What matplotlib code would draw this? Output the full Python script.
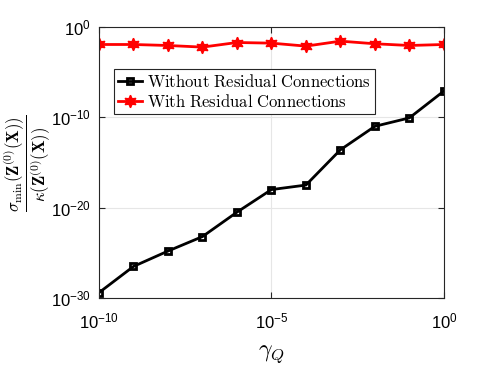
import numpy as np
import matplotlib.pyplot as plt

plt.rcParams['font.family'] = ['Liberation Sans', 'DejaVu Sans']
plt.rcParams['mathtext.fontset'] = 'cm'

# data (log10 values)
gamma_q = 10.0 ** np.arange(-10, 1)
log_without = [-29.4, -26.5, -24.8, -23.2, -20.5, -18.0, -17.5, -13.6, -11.0, -10.07, -7.1]
log_with = [-1.95, -1.95, -2.06, -2.24, -1.73, -1.80, -2.13, -1.58, -1.87, -2.06, -1.95]
without_res = 10.0 ** np.array(log_without)
with_res = 10.0 ** np.array(log_with)

fig = plt.figure(figsize=(4.91, 3.68), dpi=100)
ax = fig.add_axes([0.2016, 0.19, 0.7024, 0.737])

ax.plot(gamma_q, without_res, 'k-', lw=2, marker='s', ms=5,
        mfc='none', mew=2,
        label=r'$\mathrm{Without\ Residual\ Connections}$')
ax.plot(gamma_q, with_res, 'r-', lw=2, marker=(6, 1, 0), ms=9,
        mfc='r', mec='r',
        label=r'$\mathrm{With\ Residual\ Connections}$')

ax.set_xscale('log')
ax.set_yscale('log')
ax.set_xlim(1e-10, 1e0)
ax.set_ylim(1e-30, 1e0)
ax.set_xticks([1e-10, 1e-5, 1e0])
ax.set_yticks([1e-30, 1e-20, 1e-10, 1e0])
ax.minorticks_off()
ax.tick_params(direction='in', labelsize=12, top=True, right=True,
               length=4, color='#262626')
ax.tick_params(axis='x', pad=10)
ax.tick_params(axis='y', pad=6)
ax.grid(True, color='#e6e6e6', lw=0.8)
ax.set_axisbelow(True)
for s in ax.spines.values():
    s.set_color('#262626')
    s.set_linewidth(0.8)

ax.set_xlabel(r'$\gamma_Q$', fontsize=17, labelpad=8)
fig.text(0.056, 0.555,
         r'$\dfrac{\sigma_{\min}(\mathbf{Z}^{(0)}(\mathbf{X}))}{\kappa(\mathbf{Z}^{(0)}(\mathbf{X}))}$',
         fontsize=12, rotation=90, ha='center', va='center')

leg = ax.legend(loc='upper left', bbox_to_anchor=(0.02, 0.875), fontsize=12,
                fancybox=False, edgecolor='#262626', framealpha=1,
                handlelength=1.4, handletextpad=0.3, borderpad=0.25,
                labelspacing=0.15)
leg.get_frame().set_linewidth(0.8)

fig.savefig('out.png', dpi=100)
